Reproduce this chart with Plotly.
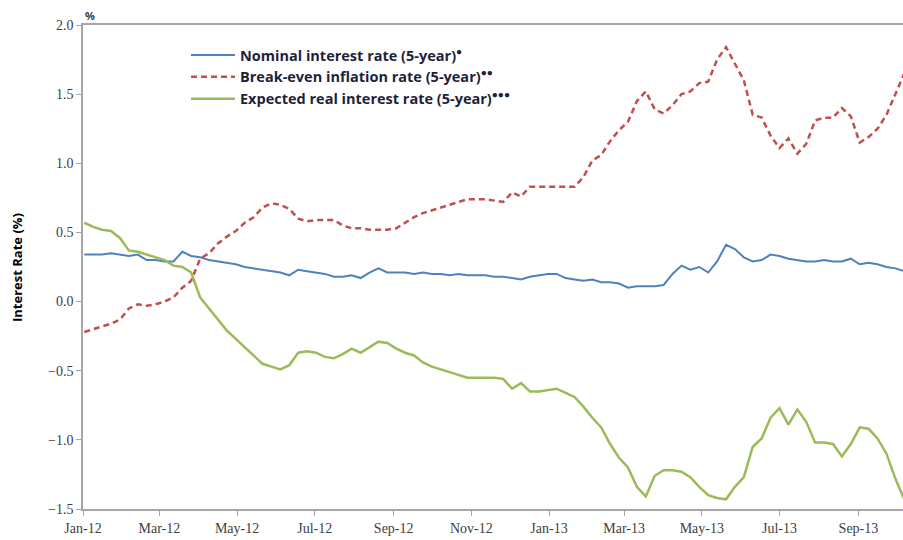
import pandas as pd
import plotly.graph_objects as go

# weekly observation dates
dates = pd.date_range("2012-01-02", periods=93, freq="7D")

nominal = [0.34, 0.34, 0.34, 0.35, 0.34, 0.33, 0.34, 0.30, 0.30, 0.29,
           0.29, 0.36, 0.33, 0.32, 0.30, 0.29, 0.28, 0.27, 0.25, 0.24,
           0.23, 0.22, 0.21, 0.19, 0.23, 0.22, 0.21, 0.20, 0.18, 0.18,
           0.19, 0.17, 0.21, 0.24, 0.21, 0.21, 0.21, 0.20, 0.21, 0.20,
           0.20, 0.19, 0.20, 0.19, 0.19, 0.19, 0.18, 0.18, 0.17, 0.16,
           0.18, 0.19, 0.20, 0.20, 0.17, 0.16, 0.15, 0.16, 0.14, 0.14,
           0.13, 0.10, 0.11, 0.11, 0.11, 0.12, 0.20, 0.26, 0.23, 0.25,
           0.21, 0.29, 0.41, 0.38, 0.32, 0.29, 0.30, 0.34, 0.33, 0.31,
           0.30, 0.29, 0.29, 0.30, 0.29, 0.29, 0.31, 0.27, 0.28, 0.27,
           0.25, 0.24, 0.22]

breakeven = [-0.22, -0.20, -0.18, -0.16, -0.13, -0.05, -0.02, -0.03, -0.02, 0.00,
             0.03, 0.10, 0.15, 0.31, 0.35, 0.42, 0.47, 0.51, 0.57, 0.61,
             0.68, 0.71, 0.70, 0.67, 0.60, 0.58, 0.59, 0.59, 0.59, 0.55,
             0.53, 0.53, 0.52, 0.52, 0.52, 0.53, 0.57, 0.61, 0.64, 0.66,
             0.68, 0.70, 0.72, 0.74, 0.74, 0.74, 0.73, 0.72, 0.79, 0.76,
             0.83, 0.83, 0.83, 0.83, 0.83, 0.83, 0.90, 1.02, 1.06, 1.16,
             1.24, 1.30, 1.45, 1.52, 1.39, 1.36, 1.42, 1.50, 1.52, 1.58,
             1.59, 1.75, 1.84, 1.72, 1.60, 1.35, 1.33, 1.20, 1.11, 1.18,
             1.07, 1.14, 1.31, 1.33, 1.33, 1.40, 1.34, 1.15, 1.19, 1.25,
             1.35, 1.50, 1.65]

real = [0.57, 0.54, 0.52, 0.51, 0.46, 0.37, 0.36, 0.34, 0.32, 0.30,
        0.26, 0.25, 0.21, 0.03, -0.05, -0.13, -0.21, -0.27, -0.33, -0.39,
        -0.45, -0.47, -0.49, -0.46, -0.37, -0.36, -0.37, -0.40, -0.41, -0.38,
        -0.34, -0.37, -0.33, -0.29, -0.30, -0.34, -0.37, -0.39, -0.44, -0.47,
        -0.49, -0.51, -0.53, -0.55, -0.55, -0.55, -0.55, -0.56, -0.63, -0.59,
        -0.65, -0.65, -0.64, -0.63, -0.66, -0.69, -0.76, -0.84, -0.91, -1.03,
        -1.13, -1.20, -1.34, -1.41, -1.26, -1.22, -1.22, -1.23, -1.27, -1.34,
        -1.40, -1.42, -1.43, -1.34, -1.27, -1.05, -0.99, -0.84, -0.77, -0.89,
        -0.78, -0.87, -1.02, -1.02, -1.03, -1.12, -1.03, -0.91, -0.92, -0.99,
        -1.10, -1.28, -1.43]

names = ["<b>Nominal interest rate (5-year)</b><sup>●</sup>",
         "<b>Break-even inflation rate (5-year)</b><sup>●●</sup>",
         "<b>Expected real interest rate (5-year)</b><sup>●●●</sup>"]

fig = go.Figure()
fig.add_trace(go.Scatter(x=dates, y=nominal, mode="lines", name=names[0],
                         line=dict(color="#4F81BD", width=2)))
fig.add_trace(go.Scatter(x=dates, y=breakeven, mode="lines", name=names[1],
                         line=dict(color="#C0504D", width=2.5, dash="6px,4px")))
fig.add_trace(go.Scatter(x=dates, y=real, mode="lines", name=names[2],
                         line=dict(color="#9BBB59", width=2.5)))

serif = dict(family="Liberation Serif", size=14, color="#404040")

fig.update_layout(
    width=903, height=540,
    margin=dict(l=83, r=0, t=25, b=31),
    paper_bgcolor="white", plot_bgcolor="white",
    showlegend=True,
    legend=dict(x=0.1256, y=0.971, xanchor="left", yanchor="top",
                font=dict(family="Open Sans", size=14.5, color="#1F1F3A"),
                itemwidth=44,
                bgcolor="rgba(0,0,0,0)", tracegroupgap=0),
    xaxis=dict(type="date", range=["2012-01-01", "2013-10-06"],
               tick0="2012-01-01", dtick="M2", tickformat="%b-%y",
               showgrid=False, zeroline=False, showline=True,
               linecolor="#A6A6A6", linewidth=1.5, mirror=True,
               ticks="outside", ticklen=5, tickcolor="#A6A6A6",
               tickfont=serif, automargin=False),
    yaxis=dict(range=[-1.5, 2.0], dtick=0.5, tickformat=".1f",
               showgrid=False, zeroline=False, showline=True,
               linecolor="#A6A6A6", linewidth=1.5,
               ticks="outside", ticklen=5, tickcolor="#A6A6A6",
               tickfont=serif, automargin=False),
    annotations=[
        dict(text="<b>Interest Rate (%)</b>", xref="paper", yref="paper",
             x=-0.0805, y=0.5, xanchor="center", yanchor="middle",
             textangle=-90, showarrow=False,
             font=dict(family="Open Sans", size=13, color="black")),
        dict(text="<b>%</b>", xref="paper", yref="paper",
             x=0.0, y=1.0, xanchor="left", yanchor="bottom",
             showarrow=False,
             font=dict(family="Open Sans", size=11, color="#404040")),
    ],
)

# remove the default page margin so the 903x540 figure fills the window exactly
fig.write_html("out.html",
               config={"displayModeBar": False},
               post_script="document.body.style.margin='0';"
                           "document.body.style.overflow='hidden';")
